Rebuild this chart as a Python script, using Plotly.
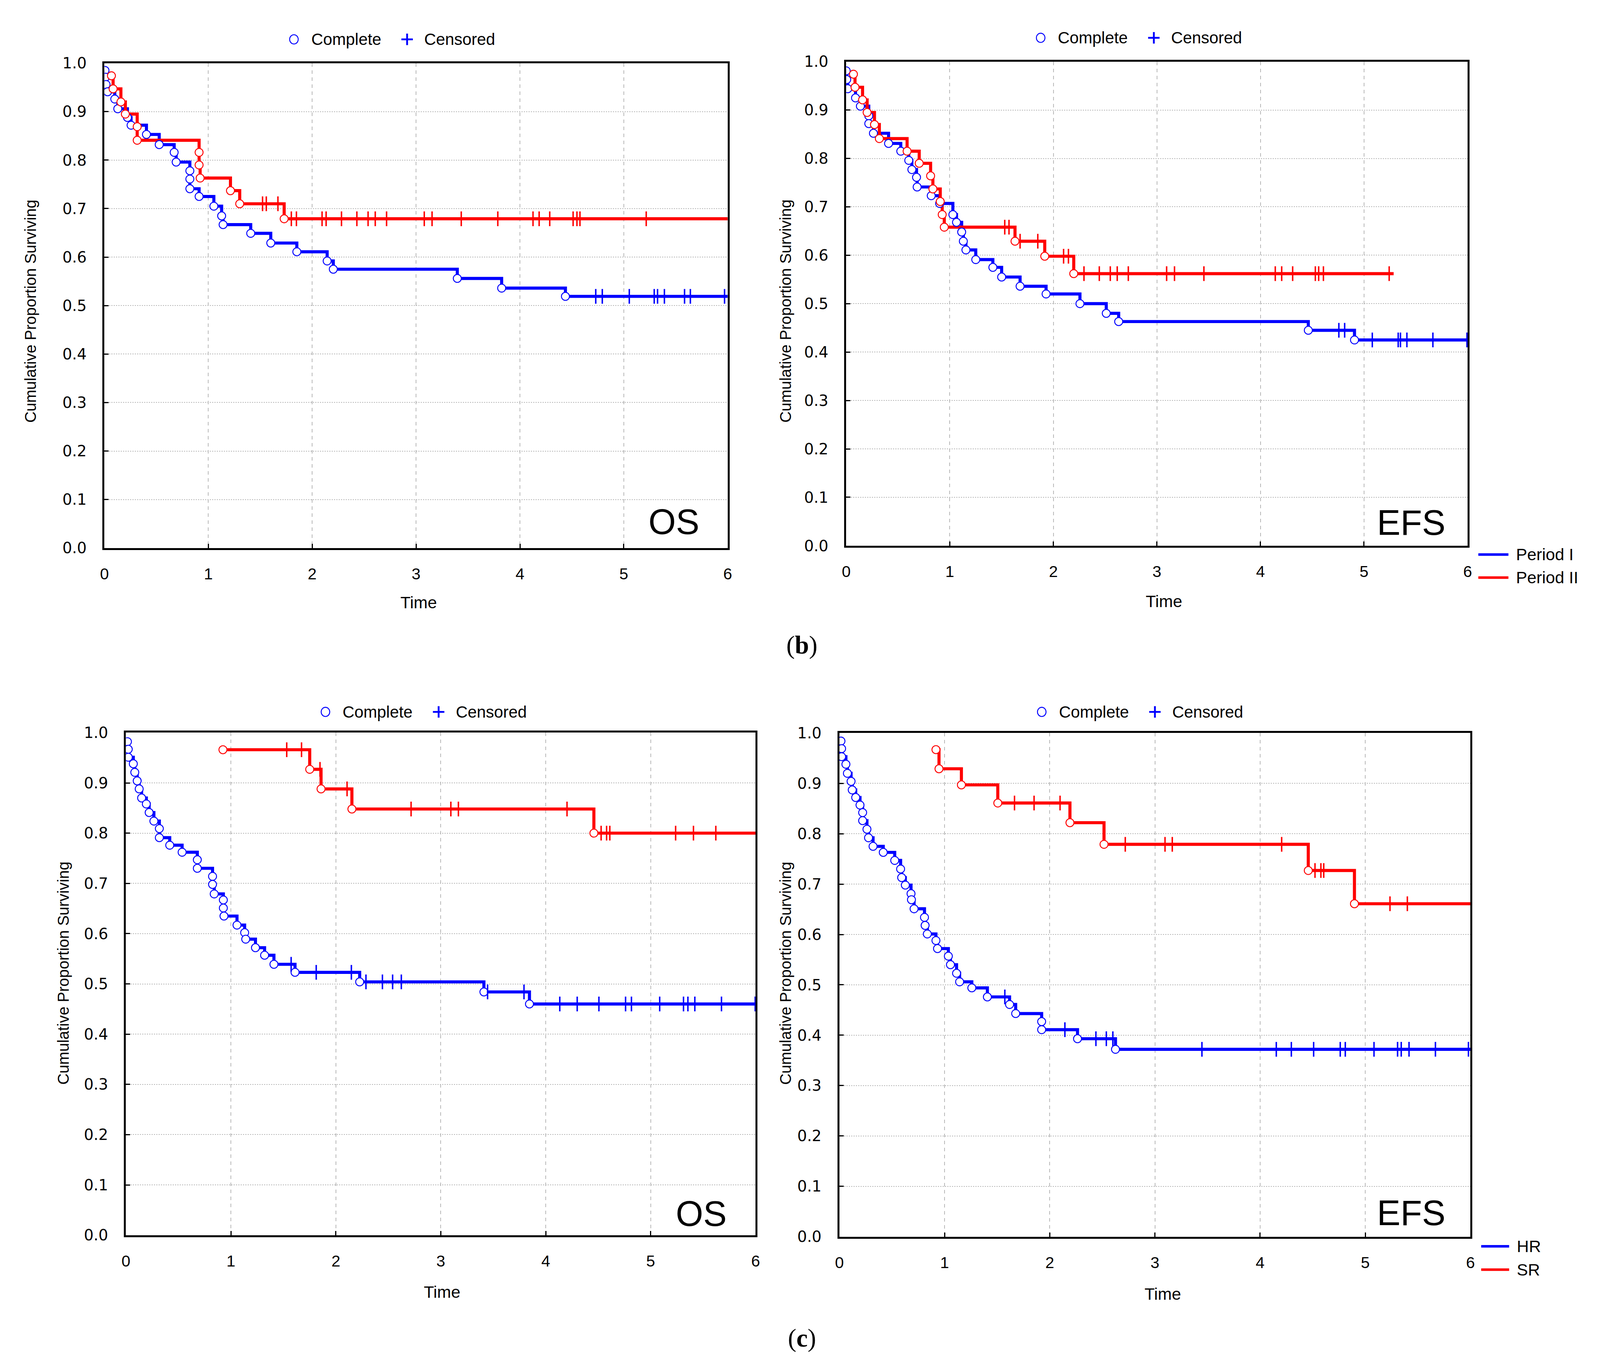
import plotly.graph_objects as go

W, H = 4426, 3512          # reference pixel frame (positions are given in these units)
K = 0.93                   # CSS-pixel scale for fonts / line widths

# ---------------- data (time in years, survival proportion) ----------------
# (b) OS
bos_p1_event_t = [0.005, 0.01, 0.015, 0.03, 0.099, 0.128, 0.221, 0.256, 0.404, 0.527, 0.671, 0.690,
                  0.822, 0.822, 0.822, 0.911, 1.053, 1.128, 1.142, 1.408, 1.601, 1.852, 2.144, 2.203,
                  3.397, 3.824, 4.438]
bos_p1_event_s = [0.985, 0.971, 0.956, 0.941, 0.926, 0.906, 0.888, 0.872, 0.853, 0.832, 0.816, 0.796,
                  0.778, 0.761, 0.741, 0.725, 0.705, 0.685, 0.667, 0.649, 0.629, 0.611, 0.592, 0.575,
                  0.556, 0.536, 0.519]
bos_p1_cens_t = [4.730, 4.793, 5.053, 5.293, 5.325, 5.391, 5.585, 5.641, 5.97]
bos_p1_end = 6.0

bos_p2_event_t = [0.067, 0.083, 0.158, 0.201, 0.315, 0.315, 0.911, 0.911, 0.921, 1.213, 1.302, 1.730]
bos_p2_event_s = [0.974, 0.947, 0.920, 0.895, 0.869, 0.841, 0.816, 0.790, 0.763, 0.737, 0.710, 0.679]
bos_p2_cens_t = [1.522, 1.558, 1.670, 1.799, 1.848, 2.095, 2.134, 2.282, 2.43, 2.538, 2.607, 2.716,
                 3.079, 3.154, 3.435, 3.787, 4.126, 4.185, 4.287, 4.512, 4.549, 4.578, 5.216]
bos_p2_end = 6.0

# (b) EFS
befs_p1_event_t = [0.0, 0.005, 0.015, 0.090, 0.137, 0.218, 0.218, 0.263, 0.409, 0.527, 0.604, 0.634,
                   0.679, 0.685, 0.821, 0.902, 1.030, 1.065, 1.115, 1.131, 1.156, 1.251, 1.416, 1.501,
                   1.679, 1.930, 2.257, 2.511, 2.631, 4.462, 4.908]
befs_p1_event_s = [0.981, 0.963, 0.944, 0.925, 0.908, 0.888, 0.872, 0.852, 0.831, 0.815, 0.796, 0.777,
                   0.761, 0.741, 0.723, 0.707, 0.684, 0.668, 0.648, 0.629, 0.611, 0.591, 0.575, 0.555,
                   0.536, 0.520, 0.500, 0.480, 0.463, 0.445, 0.425]
befs_p1_cens_t = [4.757, 4.813, 5.08, 5.33, 5.352, 5.414, 5.665, 5.994]
befs_p1_end = 6.0

befs_p2_event_t = [0.070, 0.085, 0.158, 0.202, 0.273, 0.320, 0.588, 0.705, 0.815, 0.837, 0.908, 0.927,
                   0.947, 1.630, 1.917, 2.197]
befs_p2_event_s = [0.974, 0.947, 0.921, 0.895, 0.870, 0.841, 0.815, 0.790, 0.764, 0.737, 0.711, 0.684,
                   0.658, 0.629, 0.598, 0.562]
befs_p2_cens_t = [1.531, 1.572, 1.679, 1.850, 2.099, 2.146, 2.296, 2.444, 2.550, 2.617, 2.724, 3.094,
                  3.170, 3.454, 4.143, 4.205, 4.311, 4.530, 4.562, 4.608, 5.243]
befs_p2_end = 5.286

# (c) OS
cos_hr_event_t = [0.014, 0.022, 0.022, 0.070, 0.084, 0.107, 0.126, 0.149, 0.194, 0.221, 0.266, 0.318,
                  0.318, 0.417, 0.535, 0.680, 0.680, 0.825, 0.825, 0.841, 0.928, 0.928, 0.934, 1.058,
                  1.131, 1.141, 1.234, 1.321, 1.410, 1.611, 2.227, 3.411, 3.845]
cos_hr_event_s = [0.982, 0.967, 0.951, 0.938, 0.921, 0.904, 0.888, 0.870, 0.858, 0.841, 0.824, 0.809,
                  0.791, 0.776, 0.762, 0.747, 0.730, 0.714, 0.698, 0.679, 0.667, 0.651, 0.635, 0.617,
                  0.602, 0.589, 0.572, 0.557, 0.539, 0.523, 0.504, 0.484, 0.460]
cos_hr_cens_t = [1.574, 1.813, 2.148, 2.287, 2.444, 2.541, 2.624, 3.446, 3.793, 4.134, 4.300, 4.507,
                 4.761, 4.817, 5.086, 5.313, 5.355, 5.421, 5.675, 5.996]
cos_hr_end = 6.0

cos_sr_event_t = [0.924, 1.751, 1.859, 2.153, 4.459]
cos_sr_event_s = [0.966, 0.927, 0.888, 0.848, 0.800]
cos_sr_cens_t = [1.532, 1.673, 1.849, 2.107, 2.717, 3.096, 3.168, 4.203, 4.528, 4.580, 4.611, 5.238,
                 5.408, 5.621]
cos_sr_end = 6.0

# (c) EFS
cefs_hr_event_t = [0.015, 0.021, 0.021, 0.062, 0.076, 0.111, 0.122, 0.155, 0.196, 0.221, 0.221, 0.262,
                   0.277, 0.320, 0.417, 0.526, 0.582, 0.592, 0.627, 0.681, 0.685, 0.710, 0.809, 0.815,
                   0.836, 0.918, 0.933, 1.036, 1.056, 1.114, 1.143, 1.259, 1.407, 1.618, 1.676, 1.923,
                   1.923, 2.264, 2.625]
cefs_hr_event_s = [0.984, 0.969, 0.953, 0.938, 0.920, 0.904, 0.887, 0.872, 0.857, 0.842, 0.826, 0.809,
                   0.792, 0.775, 0.763, 0.747, 0.730, 0.713, 0.698, 0.681, 0.669, 0.651, 0.634, 0.618,
                   0.601, 0.588, 0.572, 0.557, 0.540, 0.523, 0.506, 0.494, 0.476, 0.461, 0.443, 0.427,
                   0.411, 0.393, 0.372]
cefs_hr_cens_t = [1.573, 2.144, 2.439, 2.538, 2.60, 3.447, 4.154, 4.297, 4.509, 4.762, 4.810, 5.083,
                  5.307, 5.342, 5.416, 5.667, 5.981]
cefs_hr_end = 6.0

cefs_sr_event_t = [0.918, 0.947, 1.160, 1.506, 2.192, 2.516, 4.458, 4.897]
cefs_sr_event_s = [0.967, 0.929, 0.897, 0.861, 0.822, 0.779, 0.727, 0.661]
cefs_sr_cens_t = [1.665, 1.851, 2.098, 2.718, 3.096, 3.165, 4.205, 4.522, 4.578, 4.605, 5.235, 5.400]
cefs_sr_end = 6.0

x_tick_vals = [0, 1, 2, 3, 4, 5, 6]
y_tick_vals = [0.0, 0.1, 0.2, 0.3, 0.4, 0.5, 0.6, 0.7, 0.8, 0.9, 1.0]

panel_titles = ["OS", "EFS", "OS", "EFS"]
legend_b = ["Period I", "Period II"]
legend_c = ["HR", "SR"]
BLUE = "#0000FF"
RED = "#FF0000"

# ---------------- helpers ----------------
def fx(px):
    return px / W

def fy(py):
    return 1 - py / H

def s(v):
    return v * K

def si(v):
    return int(round(v * K))

def step_at(ev_t, ev_s, t):
    val = ev_s[0]
    for et, es in zip(ev_t, ev_s):
        if et <= t:
            val = es
    return val

fig = go.Figure()

panels = [
    ("", (271, 2011), (134, 1397),
     [(bos_p1_event_t, bos_p1_event_s, bos_p1_cens_t, bos_p1_end, BLUE),
      (bos_p2_event_t, bos_p2_event_s, bos_p2_cens_t, bos_p2_end, RED)]),
    ("2", (2342, 4077), (130, 1391),
     [(befs_p1_event_t, befs_p1_event_s, befs_p1_cens_t, befs_p1_end, BLUE),
      (befs_p2_event_t, befs_p2_event_s, befs_p2_cens_t, befs_p2_end, RED)]),
    ("3", (331, 2089), (1878, 3187),
     [(cos_hr_event_t, cos_hr_event_s, cos_hr_cens_t, cos_hr_end, BLUE),
      (cos_sr_event_t, cos_sr_event_s, cos_sr_cens_t, cos_sr_end, RED)]),
    ("4", (2323, 4085), (1879, 3191),
     [(cefs_hr_event_t, cefs_hr_event_s, cefs_hr_cens_t, cefs_hr_end, BLUE),
      (cefs_sr_event_t, cefs_sr_event_s, cefs_sr_cens_t, cefs_sr_end, RED)]),
]

layout_axes = {}
for suf, (x0, x1), (yt, yb), series in panels:
    xa = "x" + suf
    ya = "y" + suf
    for ev_t, ev_s, c_t, end, col in series:
        fig.add_trace(go.Scatter(x=list(ev_t) + [end], y=list(ev_s) + [ev_s[-1]],
                                 mode="lines", line=dict(color=col, width=s(8.5), shape="hv"),
                                 xaxis=xa, yaxis=ya, hoverinfo="skip"))
    for ev_t, ev_s, c_t, end, col in series:
        fig.add_trace(go.Scatter(x=ev_t, y=ev_s, mode="markers",
                                 marker=dict(symbol="circle", size=s(22), color="white",
                                             line=dict(color=col, width=s(2.5))),
                                 xaxis=xa, yaxis=ya))
    for ev_t, ev_s, c_t, end, col in series:
        fig.add_trace(go.Scatter(x=c_t, y=[step_at(ev_t, ev_s, t) for t in c_t], mode="markers",
                                 marker=dict(symbol="line-ns", size=s(29),
                                             line=dict(color=col, width=s(4))),
                                 xaxis=xa, yaxis=ya))
    layout_axes["xaxis" + suf] = dict(
        domain=[fx(x0), fx(x1)], range=[0, 6], anchor=ya,
        tickvals=x_tick_vals, ticktext=[str(v) for v in x_tick_vals],
        ticks="inside", ticklen=si(12), tickwidth=s(3), tickcolor="black",
        showline=True, mirror=True, linecolor="black", linewidth=s(5),
        showgrid=True, gridcolor="#b8b8b8", gridwidth=s(2), griddash="dash",
        zeroline=False, ticklabelstandoff=si(28),
        tickfont=dict(family="Liberation Sans, Arial", size=s(44), color="black"))
    layout_axes["yaxis" + suf] = dict(
        domain=[fy(yb), fy(yt)], range=[0, 1], anchor=xa,
        tickvals=y_tick_vals, ticktext=["%.1f" % v for v in y_tick_vals],
        ticks="inside", ticklen=si(12), tickwidth=s(3), tickcolor="black",
        showline=True, mirror=True, linecolor="black", linewidth=s(5),
        showgrid=True, gridcolor="#b8b8b8", gridwidth=s(2), griddash="dot",
        zeroline=False, ticklabelstandoff=si(36),
        tickfont=dict(family="DejaVu Sans", size=s(42), color="black"))

annotations = []
shapes = []

title_pos = [(1934, 1329), (4017, 1331), (2010, 3131), (4017, 3129)]
for txt, (px, py) in zip(panel_titles, title_pos):
    annotations.append(dict(text=txt, x=fx(px), y=fy(py), xref="paper", yref="paper",
                            xanchor="right", yanchor="middle", showarrow=False,
                            font=dict(family="Liberation Sans, Arial", size=s(97), color="black")))

ytitle_pos = [(65, 780), (2173, 780), (156, 2505), (2173, 2505)]
for px, py in ytitle_pos:
    annotations.append(dict(text="Cumulative Proportion Surviving", x=fx(px), y=fy(py),
                            xref="paper", yref="paper", textangle=-90, showarrow=False,
                            xanchor="center", yanchor="middle",
                            font=dict(family="Liberation Sans, Arial", size=s(43), color="black")))
xtitle_pos = [(1148, 1539), (3229, 1536), (1213, 3335), (3226, 3340)]
for px, py in xtitle_pos:
    annotations.append(dict(text="Time", x=fx(px), y=fy(py), xref="paper", yref="paper",
                            showarrow=False, xanchor="center", yanchor="middle",
                            font=dict(family="Liberation Sans, Arial", size=s(46), color="black")))

for cx, cy in [(800, 72), (2885, 68), (888, 1824), (2888, 1824)]:
    r = 12
    shapes.append(dict(type="circle", xref="paper", yref="paper",
                       x0=fx(cx - r), x1=fx(cx + r), y0=fy(cy + r), y1=fy(cy - r),
                       line=dict(color=BLUE, width=s(2.5)), fillcolor="white"))
    annotations.append(dict(text="Complete", x=fx(cx + 46), y=fy(cy), xref="paper", yref="paper",
                            xanchor="left", yanchor="middle", showarrow=False,
                            font=dict(family="Liberation Sans, Arial", size=s(45), color="black")))
    pxc = cx + 316
    shapes.append(dict(type="line", xref="paper", yref="paper",
                       x0=fx(pxc - 16), x1=fx(pxc + 16), y0=fy(cy), y1=fy(cy),
                       line=dict(color=BLUE, width=s(5))))
    shapes.append(dict(type="line", xref="paper", yref="paper",
                       x0=fx(pxc), x1=fx(pxc), y0=fy(cy - 15), y1=fy(cy + 15),
                       line=dict(color=BLUE, width=s(5))))
    annotations.append(dict(text="Censored", x=fx(cx + 362), y=fy(cy), xref="paper", yref="paper",
                            xanchor="left", yanchor="middle", showarrow=False,
                            font=dict(family="Liberation Sans, Arial", size=s(45), color="black")))

for labels, (lx0, lx1, tx, y1, y2) in [(legend_b, (4107, 4191, 4210, 1414, 1474)),
                                      (legend_c, (4115, 4193, 4212, 3216, 3277))]:
    for lab, yy, col in zip(labels, [y1, y2], [BLUE, RED]):
        shapes.append(dict(type="line", xref="paper", yref="paper",
                           x0=fx(lx0), x1=fx(lx1), y0=fy(yy), y1=fy(yy),
                           line=dict(color=col, width=s(7))))
        annotations.append(dict(text=lab, x=fx(tx), y=fy(yy), xref="paper", yref="paper",
                                xanchor="left", yanchor="middle", showarrow=False,
                                font=dict(family="Liberation Sans, Arial", size=s(46), color="black")))

for txt, (px, py) in [("(<b>b</b>)", (2218, 1650)), ("(<b>c</b>)", (2218, 3455))]:
    annotations.append(dict(text=txt, x=fx(px), y=fy(py), xref="paper", yref="paper",
                            showarrow=False, xanchor="center", yanchor="middle",
                            font=dict(family="Liberation Serif, Times New Roman", size=s(70),
                                      color="black")))

fig.update_layout(
    autosize=True,
    margin=dict(l=0, r=0, t=0, b=0),
    paper_bgcolor="white", plot_bgcolor="white",
    showlegend=False,
    annotations=annotations, shapes=shapes,
    **layout_axes)

fig.write_html("out.html", default_width="calc(100vw - 16px)",
               default_height="calc(100vh - 16px)", config={"responsive": True})
